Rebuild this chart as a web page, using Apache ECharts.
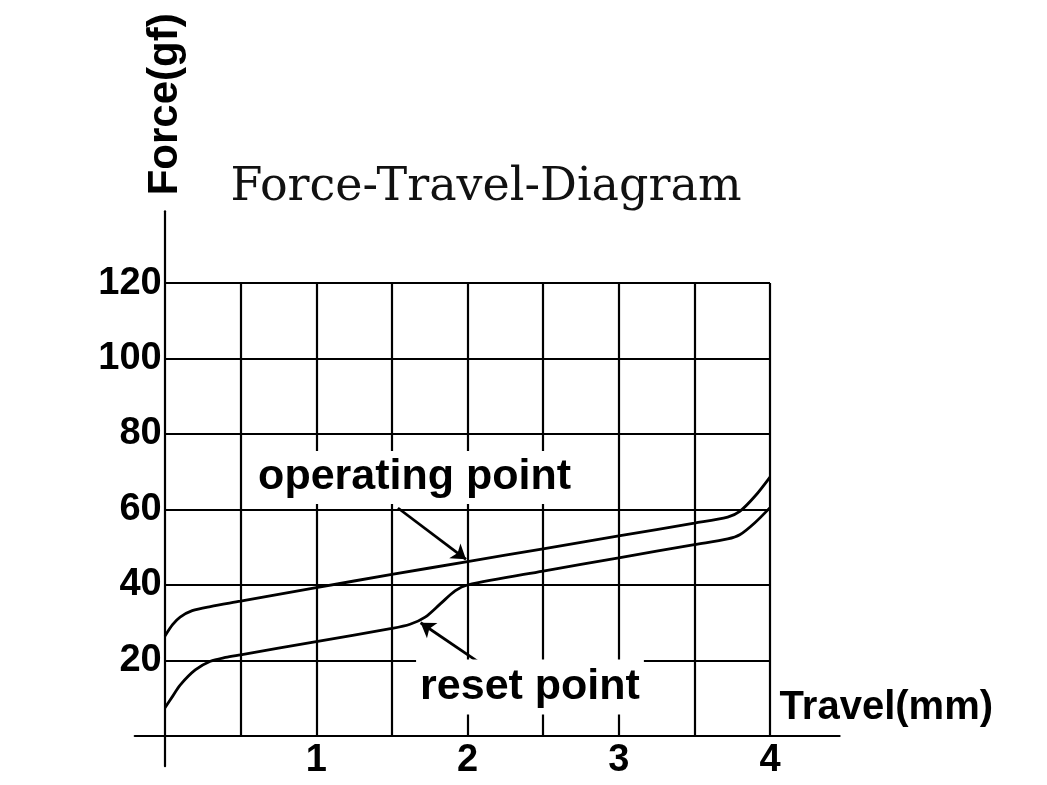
<!DOCTYPE html>
<html><head><meta charset="utf-8">
<script src="https://cdn.jsdelivr.net/npm/echarts@6/dist/echarts.min.js"></script>
<style>html,body{margin:0;padding:0;background:#fff}#c{width:1047px;height:785px}</style>
</head><body><div id="c"></div>
<script>
// ---- data ----
const titleText = 'Force-Travel-Diagram';
const xName = 'Travel(mm)';
const yName = 'Force(gf)';
const xTicks = [1, 2, 3, 4];
const yTicks = [20, 40, 60, 80, 100, 120];
const gridXs = [0.5, 1, 1.5, 2, 2.5, 3, 3.5, 4];
const gridYs = [20, 40, 60, 80, 100, 120];
const xRange = [0, 4];
const yRange = [0, 120];

const operatingX = [0, 0.05, 0.1, 0.18, 0.3, 0.5, 1, 1.5, 2, 2.5, 3, 3.5, 3.72, 3.8, 3.9, 4];
const operatingY = [26.5, 29.5, 31.5, 33.2, 34.3, 35.7, 39.3, 42.8, 46.2, 49.6, 53, 56.4, 58, 59.5, 63.5, 68.6];
const resetX = [0, 0.05, 0.1, 0.2, 0.3, 0.4, 0.5, 1, 1.5, 1.62, 1.72, 1.82, 1.92, 2, 2.5, 3, 3.5, 3.72, 3.8, 3.9, 4];
const resetY = [7.5, 10.5, 13.5, 17.5, 19.8, 20.8, 21.5, 25, 28.5, 29.6, 31.5, 35, 38.5, 40, 43.7, 47.2, 50.7, 52.2, 53.3, 56.5, 60.5];

const labelNames = ['operating point', 'reset point'];
const labelX = [1.65, 2.413];
const labelY = [68.5, 13];
const arrowFrom = [[1.54, 60.4], [2.083, 19.3]];
const arrowTo = [[1.99, 46.8], [1.69, 30.0]];

// ---- chart ----
const chart = echarts.init(document.getElementById('c'));
const boldFont = "'Liberation Sans', Arial, sans-serif";
const zip = (xs, ys) => xs.map((x, i) => [x, ys[i]]);

const gridLines = gridXs.map(x => [{ coord: [x, yRange[0]] }, { coord: [x, yRange[1]] }])
  .concat(gridYs.map(y => [{ coord: [xRange[0], y] }, { coord: [xRange[1], y] }]));

chart.setOption({
  animation: false,
  backgroundColor: '#fff',
  title: {
    text: titleText, left: 481, top: 160, textAlign: 'center',
    textStyle: { fontFamily: "'DejaVu Serif', 'Liberation Serif', serif", fontWeight: 'normal', fontSize: 46, color: '#111' }
  },
  grid: { left: 134.75, right: 207.4, top: 211.3, bottom: 18.8, outerBoundsMode: 'none', containLabel: false },
  xAxis: {
    type: 'value', min: -0.2, max: 4.46,
    name: xName, nameLocation: 'end', nameGap: -60,
    nameTextStyle: { fontFamily: boldFont, fontWeight: 'bold', fontSize: 40, color: '#000', verticalAlign: 'bottom', lineHeight: 56 },
    axisLine: { show: true, onZero: true, lineStyle: { color: '#000', width: 2.2 } },
    axisTick: { show: false },
    splitLine: { show: false },
    axisLabel: { customValues: xTicks, margin: -25, fontFamily: boldFont, fontWeight: 'bold', fontSize: 38, color: '#000' }
  },
  yAxis: {
    type: 'value', min: -8, max: 139,
    name: yName, nameLocation: 'end', nameRotate: 90, nameGap: 16,
    nameTextStyle: { fontFamily: boldFont, fontWeight: 'bold', fontSize: 42, color: '#000' },
    axisLine: { show: true, onZero: true, lineStyle: { color: '#000', width: 2.2 } },
    axisTick: { show: false },
    splitLine: { show: false },
    axisLabel: { customValues: yTicks, margin: -27, fontFamily: boldFont, fontWeight: 'bold', fontSize: 38, color: '#000' }
  },
  series: [
    {
      name: 'grid', type: 'line', data: [], z: 1, silent: true,
      markLine: {
        silent: true, symbol: 'none', animation: false,
        label: { show: false },
        lineStyle: { color: '#000', width: 2.2, type: 'solid' },
        emphasis: { disabled: true },
        data: gridLines
      }
    },
    {
      name: 'operating', type: 'line', data: zip(operatingX, operatingY), z: 3,
      showSymbol: false, smooth: 0.3, silent: true,
      lineStyle: { color: '#000', width: 2.8 }
    },
    {
      name: 'reset', type: 'line', data: zip(resetX, resetY), z: 3,
      showSymbol: false, smooth: 0.3, silent: true,
      lineStyle: { color: '#000', width: 2.8 }
    },
    {
      name: 'labels', type: 'scatter', z: 5, silent: true, symbolSize: 0,
      itemStyle: { opacity: 1 },
      data: labelNames.map((n, i) => ({
        name: n, value: [labelX[i], labelY[i]],
        label: { padding: i === 0 ? [2, 0, 8, 0] : [8, 4, 4, 4] }
      })),
      label: {
        show: true, position: 'inside', formatter: '{b}',
        fontFamily: boldFont, fontWeight: 'bold', fontSize: 43, color: '#000',
        backgroundColor: '#fff', opacity: 1
      }
    },
    {
      name: 'arrows', type: 'line', data: [], z: 6, silent: true,
      markLine: {
        silent: true, symbol: ['none', 'arrow'], symbolSize: 14, animation: false,
        label: { show: false },
        lineStyle: { color: '#000', width: 2.8, type: 'solid' },
        emphasis: { disabled: true },
        data: arrowFrom.map((f, i) => [{ coord: f }, { coord: arrowTo[i] }])
      }
    }
  ]
});
</script>
</body></html>
